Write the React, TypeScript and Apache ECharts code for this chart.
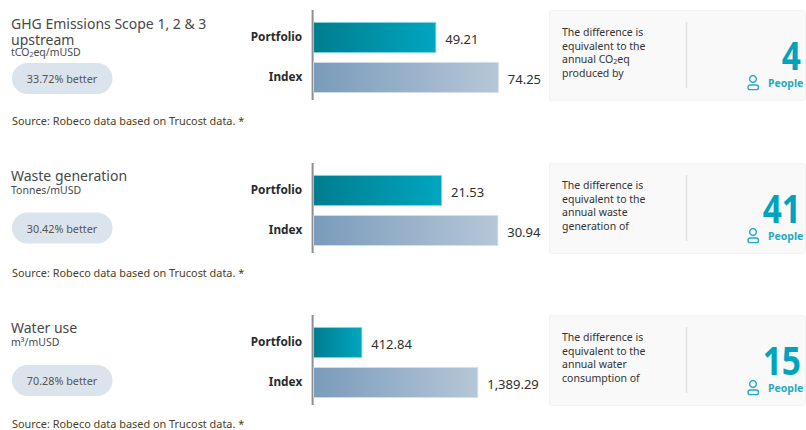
import React, { useEffect, useRef } from "react";
import * as echarts from "echarts";

const categories = ["Portfolio", "Index"];
const titles = ["GHG Emissions Scope 1, 2 & 3\nupstream", "Waste generation", "Water use"];
const units = ["tCO{s|2}eq/mUSD", "Tonnes/mUSD", "m³/mUSD"];
const betters = ["33.72% better", "30.42% better", "70.28% better"];
const sourceText = "Source: Robeco data based on Trucost data. *";
const portfolioValues = [49.21, 21.53, 412.84];
const indexValues = [74.25, 30.94, 1389.29];
const axisMaxes = [80, 33.44, 1684];
const peopleCounts = ["4", "41", "15"];
const notes = [
  ["The difference is", "equivalent to the", "annual CO{s|2}eq", "produced by"],
  ["The difference is", "equivalent to the", "annual waste", "generation of"],
  ["The difference is", "equivalent to the", "annual water", "consumption of"],
];

const FONT = "Noto Sans";
const OFFSET = [0, 153, 305];
const TITLE_Y = [31, 175, 327];
const UNIT_Y = [52, 190, 342];
const PILL_Y = [78.5, 228, 380.5];
const SOURCE_Y = [120, 272, 423.5];

const grad = (a: string, b: string) => ({
  type: "linear", x: 0, y: 0, x2: 1, y2: 0,
  colorStops: [{ offset: 0, color: a }, { offset: 1, color: b }],
});
const fmt = (v: number) => v.toLocaleString("en-US", { minimumFractionDigits: 2, maximumFractionDigits: 2 });

export default function App() {
  const ref = useRef<HTMLDivElement>(null);
  useEffect(() => {
    document.body.style.margin = "0";
    const chart = echarts.init(ref.current!, undefined, { renderer: "svg" });
    const graphic: any[] = [];
    const grid: any[] = [];
    const xAxis: any[] = [];
    const yAxis: any[] = [];
    const series: any[] = [];
    OFFSET.forEach((dy, i) => {
      const t = (text: string, x: number, y: number, fontSize: number, fill: string, extra: any = {}) => ({
        type: "text", x, y, z: 5,
        style: { text, fontSize, fill, fontFamily: FONT, verticalAlign: "middle", lineHeight: Math.round(fontSize), ...extra.style },
        ...extra.el,
      });
      graphic.push(t(titles[i], 11, TITLE_Y[i], 14, "#484848", { style: { lineHeight: 16 } }));
      graphic.push(t(units[i], 11, UNIT_Y[i], 10.5, "#4a4a4a", {
        style: { lineHeight: 10, rich: { s: { fontSize: 7, padding: [5, 0, 0, 0], fill: "#4a4a4a", fontFamily: FONT } } },
      }));
      graphic.push({ type: "rect", shape: { x: 12, y: PILL_Y[i] - 15.5, width: 100.5, height: 31, r: 15.5 }, style: { fill: "#dbe3ec" } });
      graphic.push(t(betters[i], 62, PILL_Y[i], 10.8, "#555", { style: { align: "center" } }));
      graphic.push(t(sourceText, 12, SOURCE_Y[i], 10.9, "#4d3d22"));
      graphic.push({ type: "line", shape: { x1: 312.6, y1: 10 + dy, x2: 312.6, y2: 100 + dy }, style: { stroke: "#8f8f8f", lineWidth: 2 } });
      graphic.push({ type: "rect", shape: { x: 549.5, y: 10.5 + dy, width: 256, height: 90, r: 2 }, style: { fill: "#f9f9f9", stroke: "#f3f3f3", lineWidth: 1 } });
      graphic.push({ type: "line", shape: { x1: 686.5, y1: 22 + dy, x2: 686.5, y2: 88 + dy }, style: { stroke: "#e2e2e2", lineWidth: 1.5 } });
      notes[i].forEach((n, k) => graphic.push(t(n, 562, 32 + dy + k * 13.5, 10.5, "#333", {
        style: { lineHeight: 11, rich: { s: { fontSize: 7, padding: [4, 0, 0, 0], fill: "#333", fontFamily: FONT } } },
      })));
      graphic.push(t(peopleCounts[i], 801, 55 + dy, 36, "#00a3bc", {
        style: { align: "right", fontWeight: "bold", lineHeight: 28 },
        el: { scaleX: 0.93, scaleY: 1.1 },
      }));
      graphic.push(t("People", 768, 83 + dy, 10.5, "#28a9c3", { style: { fontWeight: "bold" } }));
      graphic.push({ type: "circle", shape: { cx: 753, cy: 79 + dy, r: 3.4 }, style: { fill: "none", stroke: "#28a9c3", lineWidth: 1.4 } });
      graphic.push({ type: "rect", shape: { x: 748, y: 85 + dy, width: 10.5, height: 4.6, r: 2.2 }, style: { fill: "none", stroke: "#28a9c3", lineWidth: 1.4 } });

      grid.push({ left: 313.2, top: 17.5 + dy, width: 200, height: 80, containLabel: false });
      xAxis.push({ type: "value", gridIndex: i, min: 0, max: axisMaxes[i], show: false });
      yAxis.push({
        type: "category", gridIndex: i, inverse: true, data: categories,
        axisLine: { show: false }, axisTick: { show: false }, splitLine: { show: false },
        axisLabel: { margin: 11, align: "right", verticalAlign: "bottom", lineHeight: 4, color: "#2b2b2b", fontFamily: FONT, fontWeight: "bold", fontSize: 11.8 },
      });
      series.push({
        type: "bar", xAxisIndex: i, yAxisIndex: i, barWidth: 31, silent: true,
        data: [
          { value: portfolioValues[i], itemStyle: { color: grad("#007d8f", "#00a6c0"), borderColor: "#7fd6e4", borderWidth: 0.8 } },
          { value: indexValues[i], itemStyle: { color: grad("#7a9bbb", "#b5c7d7"), borderColor: "#d5e0ea", borderWidth: 0.8 } },
        ],
        label: {
          show: true, position: "right", distance: 9, color: "#2e2e2e", fontFamily: FONT, fontSize: 13,
          offset: [0, 1], formatter: (p: any) => fmt(p.value),
        },
      });
    });
    chart.setOption({ animation: false, backgroundColor: "#ffffff", grid, xAxis, yAxis, series, graphic });
    return () => chart.dispose();
  }, []);
  return <div ref={ref} style={{ width: 806, height: 430 }} />;
}
